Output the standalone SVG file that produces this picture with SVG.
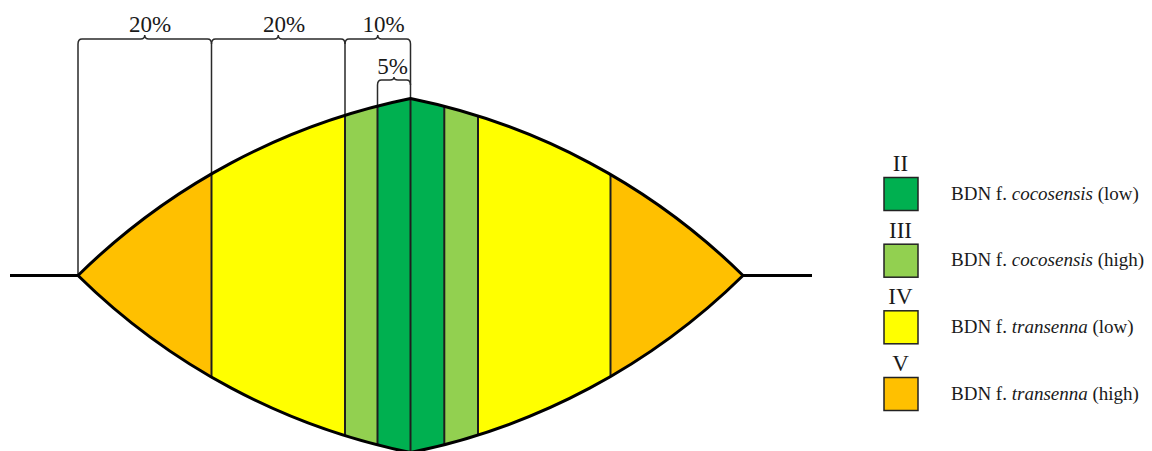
<svg xmlns="http://www.w3.org/2000/svg" width="1152" height="451" viewBox="0 0 1152 451">
  <style>
    .lbl { font-family: "Liberation Serif", "Times New Roman", serif; fill: #1a1a1a; }
    .pct { font-size: 23px; text-anchor: middle; }
    .num { font-size: 23px; text-anchor: middle; }
    .leg { font-size: 19px; }
    .brace { fill: none; stroke: #2a2a2a; stroke-width: 1.5; }
    .div { stroke: #1e1e1e; stroke-width: 2; fill: none; }
    .outline { fill: none; stroke: #000; stroke-width: 3; stroke-linejoin: miter; }
    .box { stroke: #222; stroke-width: 1.5; }
  </style>
  <defs>
    <clipPath id="lensClip">
      <path d="M78,275.5 A661,661 0 0 1 410.5,98.5 A661,661 0 0 1 743,275.5 A661,661 0 0 1 410.5,452.5 A661,661 0 0 1 78,275.5 Z"/>
    </clipPath>
  </defs>
  <rect width="1152" height="451" fill="#fff"/>

  <g id="connectors">
    <!-- brace legs -->
    <path class="brace" d="M78,44 V275.5 M211.5,44 V200 M345,44 V130 M410.5,44 V110 M377.5,85 V115"/>
    <!-- braces -->
    <path class="brace" d="M78,44 Q78,39 82,39 H140.75 Q144.75,39 144.75,35 Q144.75,39 148.75,39 H207.5 Q211.5,39 211.5,44"/>
    <path class="brace" d="M211.5,44 Q211.5,39 215.5,39 H274.25 Q278.25,39 278.25,35 Q278.25,39 282.25,39 H341 Q345,39 345,44"/>
    <path class="brace" d="M345,44 Q345,39 349,39 H373.75 Q377.75,39 377.75,35 Q377.75,39 381.75,39 H406.5 Q410.5,39 410.5,44"/>
    <path class="brace" d="M377.5,85 Q377.5,80 381.5,80 H390 Q394,80 394,77 Q394,80 398,80 H406.5 Q410.5,80 410.5,85"/>
    <!-- baseline -->
    <path class="outline" d="M10,275.5 H78 M743,275.5 H812"/>
  </g>

  <g id="lens">
    <g clip-path="url(#lensClip)">
      <rect x="70" y="90" width="141.5" height="370" fill="#FFC000"/>
      <rect x="211.5" y="90" width="133.5" height="370" fill="#FFFF00"/>
      <rect x="345" y="90" width="32.5" height="370" fill="#92D050"/>
      <rect x="377.5" y="90" width="66.8" height="370" fill="#00B050"/>
      <rect x="444.3" y="90" width="33.7" height="370" fill="#92D050"/>
      <rect x="478" y="90" width="132.5" height="370" fill="#FFFF00"/>
      <rect x="610.5" y="90" width="140" height="370" fill="#FFC000"/>
      <path class="div" d="M211.5,90 V460 M345,90 V460 M377.5,90 V460 M410.5,90 V460 M444.3,90 V460 M478,90 V460 M610.5,90 V460"/>
    </g>
    <path class="outline" d="M78,275.5 A661,661 0 0 1 410.5,98.5 A661,661 0 0 1 743,275.5 A661,661 0 0 1 410.5,452.5 A661,661 0 0 1 78,275.5 Z"/>
  </g>

  <g id="labels">
    <text class="lbl pct" x="150" y="32">20%</text>
    <text class="lbl pct" x="284" y="32">20%</text>
    <text class="lbl pct" x="383.5" y="32">10%</text>
    <text class="lbl pct" x="392.5" y="74">5%</text>
  </g>

  <g id="legend-II">
    <text class="lbl num" x="900.5" y="171">II</text>
    <rect class="box" x="884" y="177.5" width="34" height="33" fill="#00B050"/>
    <text class="lbl leg" x="951" y="199.5">BDN f. <tspan font-style="italic">cocosensis</tspan> (low)</text>
  </g>
  <g id="legend-III">
    <text class="lbl num" x="900.5" y="237.7">III</text>
    <rect class="box" x="884" y="244.2" width="34" height="33" fill="#92D050"/>
    <text class="lbl leg" x="951" y="266.2">BDN f. <tspan font-style="italic">cocosensis</tspan> (high)</text>
  </g>
  <g id="legend-IV">
    <text class="lbl num" x="900.5" y="304.3">IV</text>
    <rect class="box" x="884" y="310.8" width="34" height="33" fill="#FFFF00"/>
    <text class="lbl leg" x="951" y="332.8">BDN f. <tspan font-style="italic">transenna</tspan> (low)</text>
  </g>
  <g id="legend-V">
    <text class="lbl num" x="900.5" y="371">V</text>
    <rect class="box" x="884" y="377.5" width="34" height="33" fill="#FFC000"/>
    <text class="lbl leg" x="951" y="399.5">BDN f. <tspan font-style="italic">transenna</tspan> (high)</text>
  </g>
</svg>
